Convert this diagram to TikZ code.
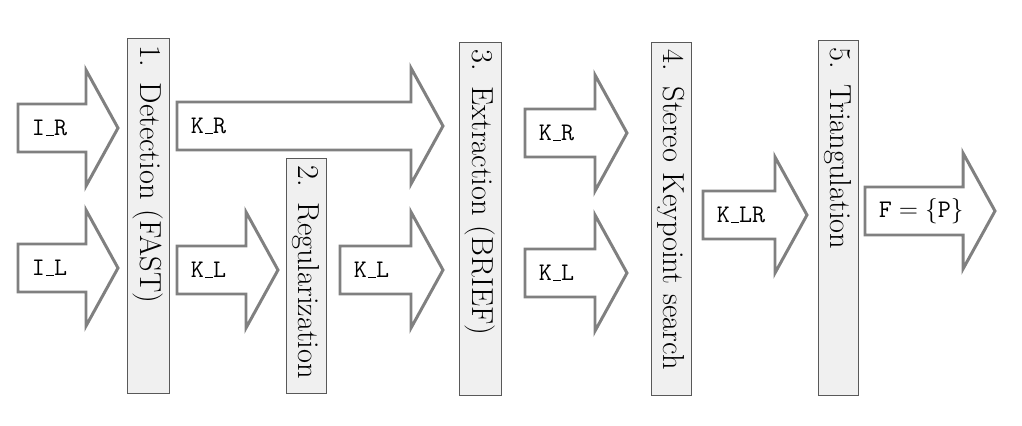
\documentclass[tikz,border=0pt]{standalone}
\usetikzlibrary{calc}

\tikzset{
  stage/.style={draw=gray!70!black, fill=gray!12, rotate=-90, anchor=west,
    minimum height=0.8cm, inner xsep=0.15cm, align=left, font=\LARGE},
  flow/.style={draw=gray, line width=1.7pt, fill=white, line join=miter},
  flowlabel/.style={anchor=west, font=\Large\ttfamily, inner sep=2pt},
}

% short low bar, as in K_R
\newcommand{\lowbar}{\leavevmode\kern.06em\vbox{\hrule width.3em}}
% stage box: name, centre x, top y, length, text
\newcommand{\stagebox}[5]{%
  \pgfmathsetmacro{\tw}{#4*0.02-0.3}
  \node[stage, text width=\tw cm] (#1) at (#2,#3) {#5};
}
% block arrow: name, start x, tip x, middle y, text
\newcommand{\flowarrow}[5]{%
  \draw[flow] (#2,#4-24) -- (#3-32,#4-24) -- (#3-32,#4-58) -- (#3,#4)
    -- (#3-32,#4+58) -- (#3-32,#4+24) -- (#2,#4+24) -- cycle;
  \node[flowlabel] (#1) at (#2+10,#4) {#5};
}

\begin{document}
\begin{tikzpicture}[x=0.02cm,y=-0.02cm]
\useasboundingbox (0,0) rectangle (1022,426);

\stagebox{det}{148}{38}{355}{1. Detection (FAST)}
\stagebox{reg}{306}{158}{235}{2. Regularization}
\stagebox{ext}{480}{42}{353}{3. Extraction (BRIEF)}
\stagebox{ste}{671}{42}{353}{4. Stereo Keypoint search}
\stagebox{tri}{838}{40}{355}{5. Triangulation}

\flowarrow{ir}{18}{118}{128}{I\lowbar R}
\flowarrow{il}{18}{118}{268}{I\lowbar L}
\flowarrow{kra}{177}{443}{126}{K\lowbar R}
\flowarrow{kla}{177}{278}{270}{K\lowbar L}
\flowarrow{klb}{340}{443}{270}{K\lowbar L}
\flowarrow{krc}{525}{627}{133}{K\lowbar R}
\flowarrow{klc}{525}{627}{273}{K\lowbar L}
\flowarrow{klr}{703}{807}{215}{K\lowbar LR}
\flowarrow{fp}{865}{995}{211}{$\mathtt{F}=\{\mathtt{P}\}$}

\end{tikzpicture}
\end{document}
